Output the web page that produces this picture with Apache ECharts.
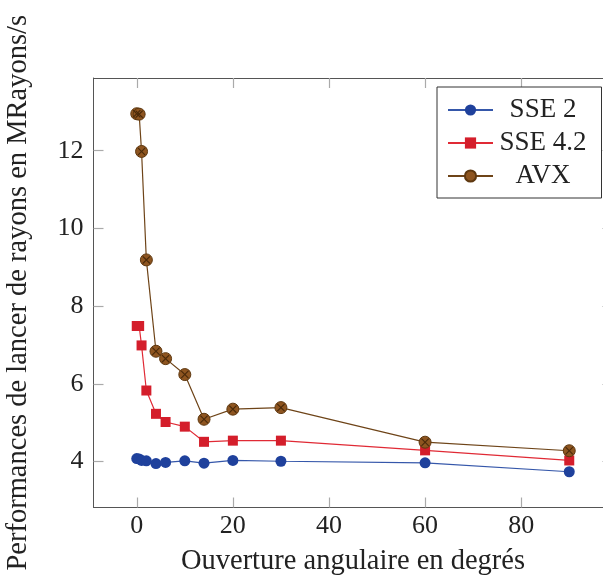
<!DOCTYPE html>
<html>
<head>
<meta charset="utf-8">
<script src="https://cdn.jsdelivr.net/npm/echarts@6/dist/echarts.min.js"></script>
<style>html,body{margin:0;padding:0;background:#fff;}#c{width:603px;height:576px;}</style>
</head>
<body>
<div id="c"></div>
<script>
const angles = [0, 0.5, 1, 2, 4, 6, 10, 14, 20, 30, 60, 90];
const sse2  = [4.08, 4.07, 4.03, 4.02, 3.95, 3.98, 4.02, 3.96, 4.03, 4.01, 3.97, 3.74];
const sse42 = [7.49, 7.49, 6.99, 5.83, 5.23, 5.02, 4.90, 4.51, 4.54, 4.54, 4.29, 4.03];
const avx   = [12.95, 12.94, 11.98, 9.19, 6.84, 6.65, 6.24, 5.09, 5.35, 5.39, 4.50, 4.28];
const seriesNames = ['SSE 2', 'SSE 4.2', 'AVX'];
const xTicks = [0, 20, 40, 60, 80];
const yTicks = [4, 6, 8, 10, 12];

const FONT = 'Liberation Serif';
const pairs = (ys) => angles.map((x, i) => [x, ys[i]]);

const chart = echarts.init(document.getElementById('c'));
const axisLineStyle = {show: true, onZero: false, lineStyle: {color: '#555', width: 1}};
const tickStyle = {show: true, inside: true, length: 10, lineStyle: {color: '#aaa', width: 1.2}};

chart.setOption({
  animation: false,
  backgroundColor: '#fff',
  grid: {left: 93.5, right: -9.5, top: 78, bottom: 68.5, containLabel: false, outerBoundsMode: 'none'},
  xAxis: [{
    type: 'value', min: -9, max: 99, position: 'bottom',
    name: 'Ouverture angulaire en degrés', nameLocation: 'middle', nameGap: 40,
    nameTextStyle: {fontFamily: FONT, fontSize: 28.5, color: '#222'},
    axisLine: axisLineStyle,
    axisTick: Object.assign({customValues: xTicks}, tickStyle),
    axisLabel: {customValues: xTicks, fontFamily: FONT, fontSize: 26, color: '#222', margin: 6},
    splitLine: {show: false}
  }, {
    type: 'value', min: -9, max: 99, position: 'top',
    axisLine: axisLineStyle,
    axisTick: Object.assign({customValues: xTicks}, tickStyle),
    axisLabel: {show: false},
    splitLine: {show: false}
  }],
  yAxis: [{
    type: 'value', min: 2.82, max: 13.87, position: 'left',
    name: 'Performances de lancer de rayons en MRayons/s', nameLocation: 'middle', nameGap: 60,
    nameTextStyle: {fontFamily: FONT, fontSize: 28.5, color: '#222'},
    axisLine: axisLineStyle,
    axisTick: Object.assign({customValues: yTicks}, tickStyle),
    axisLabel: {customValues: yTicks, fontFamily: FONT, fontSize: 26, color: '#222', margin: 10},
    splitLine: {show: false}
  }, {
    type: 'value', min: 2.82, max: 13.87, position: 'right',
    axisLine: axisLineStyle,
    axisTick: Object.assign({customValues: yTicks}, tickStyle),
    axisLabel: {show: false},
    splitLine: {show: false}
  }],
  legend: {
    data: seriesNames,
    orient: 'vertical',
    left: 437, top: 87,
    padding: [9.5, 15, 8.5, 10],
    itemWidth: 45, itemHeight: 14, itemGap: 6, itemTextGap: 5,
    backgroundColor: '#fff', borderColor: '#333', borderWidth: 1,
    formatter: '{a|{name}}',
    textStyle: {fontFamily: FONT, fontSize: 27, color: '#222',
      rich: {a: {fontFamily: FONT, fontSize: 27, color: '#222', width: 90, align: 'center'}}}
  },
  series: [{
    name: 'SSE 2', type: 'line', data: pairs(sse2),
    symbol: 'circle', symbolSize: 11,
    itemStyle: {color: '#1f419c'},
    lineStyle: {color: '#3557aa', width: 1.2}
  }, {
    name: 'SSE 4.2', type: 'line', data: pairs(sse42),
    symbol: 'rect', symbolSize: 10,
    itemStyle: {color: '#d41e2b'},
    lineStyle: {color: '#e02a35', width: 1.2}
  }, {
    name: 'AVX', type: 'line', data: pairs(avx),
    symbol: 'circle', symbolSize: 12,
    itemStyle: {color: '#8e5520', borderColor: '#5e3810', borderWidth: 1},
    lineStyle: {color: '#6e4418', width: 1.2}
  }, {
    name: 'AVX-x', type: 'line', data: pairs(avx), silent: true,
    symbol: 'path://M1,0 L5,4 L9,0 L10,1 L6,5 L10,9 L9,10 L5,6 L1,10 L0,9 L4,5 L0,1 Z',
    symbolSize: 8,
    itemStyle: {color: '#4a2a0a'},
    lineStyle: {width: 0, opacity: 0},
    z: 5
  }]
});
</script>
</body>
</html>
